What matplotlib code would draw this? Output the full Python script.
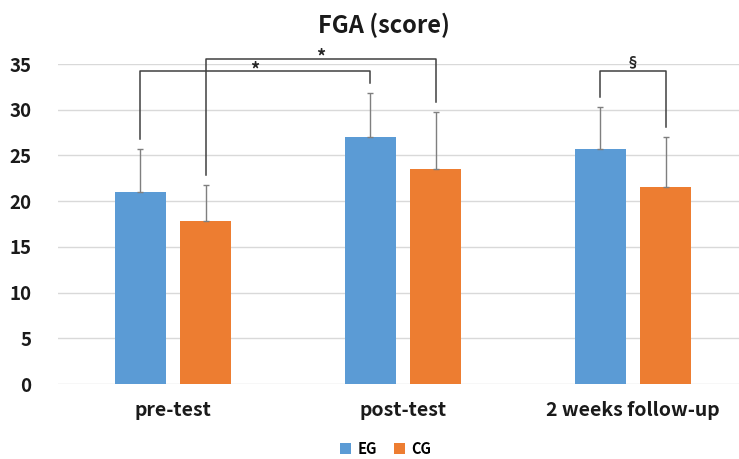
import matplotlib
matplotlib.use("Agg")
import matplotlib.pyplot as plt
import numpy as np

plt.rcParams["font.family"] = ["Noto Sans CJK KR", "DejaVu Sans"]

categories = ["pre-test", "post-test", "2 weeks follow-up"]
eg_mean = [21.0, 27.0, 25.7]
eg_sd = [4.7, 4.8, 4.6]
cg_mean = [17.8, 23.5, 21.6]
cg_sd = [4.0, 6.2, 5.4]

# significance brackets: (group_a, series_a, group_b, series_b, level, label)
brackets = [
    (0, "EG", 1, "EG", 34.2, "*"),
    (0, "CG", 1, "CG", 35.6, "*"),
    (2, "EG", 2, "CG", 34.2, "\u00a7"),
]

BLUE = "#5B9BD5"
ORANGE = "#ED7D31"
x = np.arange(len(categories))
off = 0.143
width = 0.222

fig = plt.figure(figsize=(7.39, 4.59), dpi=100)
ax = fig.add_axes([58 / 739, 75 / 459, 1 - 58 / 739, 320 / 459])

err_kw = dict(ecolor="#7F7F7F", elinewidth=1.0, capsize=2.5, capthick=1.0)
ax.bar(x - off, eg_mean, width, color=BLUE, label="EG", zorder=2)
ax.bar(x + off, cg_mean, width, color=ORANGE, label="CG", zorder=2)
ax.errorbar(x - off, eg_mean, yerr=[np.zeros(3), eg_sd], fmt="none", zorder=3, **err_kw)
ax.errorbar(x + off, cg_mean, yerr=[np.zeros(3), cg_sd], fmt="none", zorder=3, **err_kw)

tops = {
    "EG": [m + s for m, s in zip(eg_mean, eg_sd)],
    "CG": [m + s for m, s in zip(cg_mean, cg_sd)],
}
shift = {"EG": -off, "CG": off}
for ga, sa, gb, sb, level, label in brackets:
    xa = ga + shift[sa]
    xb = gb + shift[sb]
    ya = tops[sa][ga] + 1.1
    yb = tops[sb][gb] + 1.1
    ax.plot([xa, xa, xb, xb], [ya, level, level, yb], color="#404040",
            lw=1.1, clip_on=False, zorder=4)
    if label == "*":
        ax.text((xa + xb) / 2, level - 0.45, label, ha="center", va="baseline",
                fontsize=13, fontweight="bold", color="#262626")
    else:
        ax.text((xa + xb) / 2, level + 0.6, label, ha="center", va="baseline",
                fontsize=10, fontweight="bold", color="#262626")

ax.set_xlim(-0.5, (739 - 173) / 230)
ax.set_ylim(0, 35)
ax.set_yticks(range(0, 36, 5))
ax.set_xticks(x)
ax.set_xticklabels(categories)
ax.grid(axis="y", color="#D9D9D9", lw=1.0, zorder=0)
for s in ax.spines.values():
    s.set_visible(False)
ax.tick_params(axis="y", length=0, pad=19, labelsize=13.5)
ax.tick_params(axis="x", length=0, pad=12, labelsize=14)
for t in ax.get_xticklabels() + ax.get_yticklabels():
    t.set_fontweight("bold")
    t.set_color("#1a1a1a")

fig.text(0.52, 0.945, "FGA (score)", ha="center", va="center",
         fontsize=17, fontweight="bold", color="#1a1a1a")

fig.legend(loc="center", bbox_to_anchor=(0.522, 0.022), ncol=2, frameon=False,
           handlelength=0.75, handleheight=0.75, handletextpad=0.4, columnspacing=1.2,
           prop={"weight": "bold", "size": 10.5})

fig.savefig("out.png", dpi=100)
